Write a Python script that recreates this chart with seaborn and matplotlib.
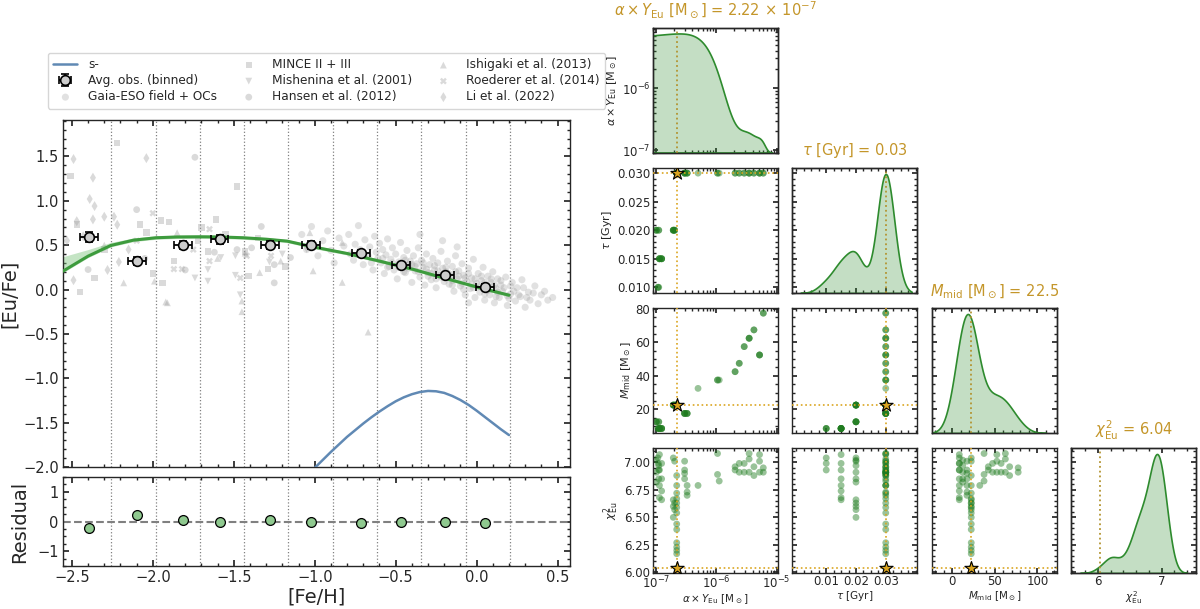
import numpy as np
import pandas as pd
import matplotlib
matplotlib.use('Agg')
import matplotlib.pyplot as plt
from matplotlib.ticker import AutoMinorLocator, FixedLocator, MultipleLocator, FormatStrFormatter
import seaborn as sns

sns.set_theme(style='ticks')
plt.rcParams.update({
    'font.family': ['DejaVu Sans'],
    'mathtext.fontset': 'dejavusans',
    'xtick.direction': 'in', 'ytick.direction': 'in',
    'xtick.top': True, 'ytick.right': True,
    'xtick.minor.visible': True, 'ytick.minor.visible': True,
    'axes.edgecolor': '0.15', 'axes.linewidth': 1.0,
    'xtick.major.size': 4.5, 'ytick.major.size': 4.5,
    'xtick.minor.size': 2.5, 'ytick.minor.size': 2.5,
})

# ---------------- left panel data ----------------
bin_feh = [-2.394, -2.098, -1.815, -1.588, -1.278, -1.023, -0.712, -0.468, -0.193, 0.054]
bin_eufe = [0.59, 0.316, 0.50, 0.564, 0.50, 0.50, 0.414, 0.271, 0.158, 0.03]
bin_xerr = [0.055, 0.055, 0.055, 0.055, 0.055, 0.055, 0.055, 0.055, 0.055, 0.055]
bin_yerr = [0.055, 0.045, 0.045, 0.05, 0.045, 0.045, 0.035, 0.03, 0.03, 0.03]
resid = [-0.21, 0.235, 0.06, 0.0, 0.06, -0.02, -0.035, 0.0, -0.02, -0.035]
bin_edges = [-2.256, -1.983, -1.709, -1.436, -1.162, -0.889, -0.615, -0.342, -0.068, 0.205]

model_feh = [-2.555, -2.4, -2.26, -2.12, -1.98, -1.85, -1.71, -1.58, -1.44, -1.30,
             -1.17, -1.01, -0.80, -0.60, -0.39, -0.19, 0.02, 0.20]
model_eufe = [0.207, 0.376, 0.496, 0.556, 0.583, 0.592, 0.594, 0.592, 0.583, 0.567,
              0.545, 0.48, 0.406, 0.32, 0.226, 0.124, 0.019, -0.064]
band_hi = [0.37, 0.45, 0.53, 0.58, 0.605, 0.612, 0.614, 0.61, 0.60, 0.585,
           0.563, 0.50, 0.425, 0.34, 0.245, 0.143, 0.038, -0.045]
band_lo = [0.19, 0.36, 0.48, 0.54, 0.566, 0.575, 0.577, 0.575, 0.566, 0.55,
           0.528, 0.463, 0.389, 0.303, 0.209, 0.107, 0.002, -0.082]

s_feh = [-1.05, -1.0, -0.95, -0.9, -0.85, -0.8, -0.75, -0.7, -0.65, -0.6, -0.55, -0.5, -0.45,
         -0.4, -0.35, -0.3, -0.25, -0.2, -0.15, -0.1, -0.05, 0.0, 0.05, 0.1, 0.15, 0.2]
s_eufe = [-2.10, -2.01, -1.92, -1.83, -1.745, -1.66, -1.585, -1.51, -1.44, -1.375, -1.315, -1.26,
          -1.215, -1.18, -1.155, -1.143, -1.147, -1.165, -1.2, -1.245, -1.3, -1.365, -1.435,
          -1.505, -1.575, -1.64]

# Gaia-ESO field + OCs
ges_feh = [-1.08, -1.05, -1.02, -0.98, -0.95, -0.92, -0.90, -0.88, -0.85, -0.82,
           -0.79, -0.78, -0.76, -0.75, -0.73, -0.72, -0.70, -0.69, -0.67, -0.66, -0.64, -0.63, -0.62, -0.61, -0.60,
           -0.59, -0.58, -0.57, -0.56, -0.55, -0.54, -0.53, -0.52, -0.51, -0.50, -0.49, -0.48, -0.47, -0.46, -0.45,
           -0.44, -0.43, -0.42, -0.41, -0.40,
           -0.39, -0.38, -0.37, -0.36, -0.35, -0.34, -0.33, -0.32, -0.31, -0.30, -0.29, -0.28, -0.27, -0.26, -0.25,
           -0.24, -0.23, -0.22, -0.21, -0.20, -0.21, -0.35,
           -0.19, -0.18, -0.17, -0.16, -0.15, -0.14, -0.13, -0.12, -0.11, -0.10, -0.09, -0.08, -0.07, -0.06, -0.05,
           -0.04, -0.03, -0.02, -0.01, 0.00, -0.12, -0.05,
           0.01, 0.02, 0.03, 0.04, 0.05, 0.06, 0.07, 0.08, 0.09, 0.10, 0.11, 0.12, 0.13, 0.14, 0.15, 0.16, 0.18, 0.19,
           0.21, 0.22, 0.24, 0.25, 0.27, 0.28, 0.30, 0.32, 0.33, 0.36, 0.38, 0.40, 0.44, 0.47,
           -0.55, -0.45, -0.30, -0.25, -0.15, -0.08, 0.05, 0.12, 0.20, -0.40, -0.65, -0.02,
           -0.58, -0.52, -0.48, -0.44, -0.42, -0.38, -0.36, -0.33, -0.31, -0.28, -0.26, -0.24, -0.22,
           -0.19, -0.17, -0.15, -0.13, -0.11, -0.09, -0.07, -0.05, -0.03, -0.01, 0.01, 0.03, 0.05,
           0.07, 0.09, 0.11, 0.13, 0.15, 0.17, 0.19, 0.21, 0.23, 0.26, 0.29, 0.31, 0.35, 0.42]
ges_eufe = [0.62, 0.45, 0.71, 0.38, 0.55, 0.66, 0.44, 0.30, 0.58, 0.49,
            0.62, 0.40, 0.33, 0.51, 0.72, 0.45, 0.28, 0.56, 0.38, 0.48, 0.22, 0.60, 0.42, 0.35, 0.52,
            0.30, 0.45, 0.18, 0.39, 0.57, 0.26, 0.34, 0.47, 0.22, 0.40, 0.12, 0.31, 0.53, 0.27, 0.36,
            0.19, 0.44, 0.24, 0.32, 0.08,
            0.38, 0.21, 0.29, 0.47, 0.14, 0.33, 0.25, 0.05, 0.40, 0.19, 0.28, 0.11, 0.35, 0.22, 0.02,
            0.30, 0.16, 0.43, 0.24, 0.09, 0.55, 0.62,
            0.20, 0.32, 0.06, 0.15, 0.26, -0.02, 0.38, 0.12, 0.21, 0.04, 0.29, 0.16, -0.06, 0.09, 0.24,
            0.01, 0.13, 0.34, -0.09, 0.07, 0.48, -0.15,
            0.18, -0.03, 0.10, 0.25, -0.12, 0.04, 0.15, -0.06, 0.08, 0.20, -0.15, 0.01, 0.12, -0.09, 0.05, -0.02, 0.14, -0.18,
            -0.05, 0.08, -0.13, 0.02, -0.08, 0.11, -0.20, -0.03, -0.12, 0.04, -0.16, -0.06, -0.12, -0.09,
            0.25, 0.20, 0.15, 0.12, 0.05, 0.00, -0.05, -0.08, -0.10, 0.28, 0.30, 0.02,
            0.35, 0.30, 0.25, 0.33, 0.28, 0.26, 0.20, 0.30, 0.23, 0.18, 0.27, 0.21, 0.14,
            0.25, 0.18, 0.10, 0.20, 0.15, 0.07, 0.13, 0.18, 0.06, 0.12, 0.03, 0.15, 0.08,
            -0.01, 0.12, 0.05, -0.03, 0.10, 0.02, -0.07, 0.04, -0.02, -0.06, 0.02, -0.09, -0.04, -0.02]

mince_feh = [-2.22, -2.51, -1.48, -1.95, -1.90, -2.08, -1.61, -1.70, -2.45, -2.36, -1.94, -2.00,
             -1.43, -1.66, -1.29, -1.18, -1.41, -2.47, -2.04, -1.72, -1.55, -1.87, -2.30, -1.35]
mince_eufe = [1.65, 1.28, 1.16, 0.78, 0.76, 0.73, 0.79, 0.70, -0.03, 0.13, 0.075, 0.18,
              0.43, 0.43, 0.23, 0.26, 0.15, 0.73, 0.64, 0.55, 0.62, 0.32, 0.45, 0.58]
mish_feh = [-1.66, -1.66, -1.74, -1.49, -1.58, -1.49, -1.28, -1.46, -1.20, -1.05]
mish_eufe = [0.225, 0.094, 0.13, 0.16, 0.36, 0.38, 0.31, -0.06, 0.40, 0.45]
hansen_feh = [-2.10, -1.74, -1.33, -1.25, -1.48, -2.40, -1.25, -1.15, -1.62, -1.39, -1.80, -2.05]
hansen_eufe = [0.90, 1.49, 0.71, 0.075, 0.45, 0.225, 0.28, 0.36, 0.42, 0.47, 0.22, 0.35]
ishi_feh = [-2.18, -1.92, -1.99, -1.85, -1.43, -1.34, -1.21, -1.91, -1.45, -1.45, -0.67,
            -1.03, -0.83, -1.01, -0.83, -1.60, -2.30]
ishi_eufe = [0.075, -0.14, 0.094, 0.64, 0.41, 0.19, 0.32, -0.15, -0.13, -0.25, -0.48,
             0.64, 0.53, 0.21, 0.08, 0.35, 0.50]
roed_feh = [-2.00, -1.65, -1.87, -1.82, -1.46, -1.65, -1.42, -1.27, -2.10, -1.75]
roed_eufe = [0.86, 0.68, 0.23, 0.23, 0.13, 0.32, 0.38, 0.38, 0.55, 0.45]
li_feh = [-2.49, -2.37, -2.39, -2.36, -2.37, -2.30, -2.49, -2.28, -2.24, -2.22, -2.04,
          -2.15, -2.21, -2.47, -2.43, -2.53]
li_eufe = [1.47, 1.26, 1.02, 0.94, 0.79, 0.82, 0.105, 0.22, 0.82, 0.73, 1.48,
           0.45, 0.31, 0.77, 0.60, 0.55]

# ---------------- corner plot samples ----------------
ay_samples = [1.08e-7, 1.1e-7, 1.12e-7,
              1.15e-7, 1.25e-7, 1.15e-7, 1.25e-7, 1.15e-7, 1.25e-7, 1.15e-7, 1.25e-7,
              1.02e-7, 1.12e-7, 1.02e-7, 1.12e-7, 1.02e-7,
              1.95e-7, 2.05e-7, 1.95e-7, 2.05e-7, 1.95e-7, 2.05e-7, 1.95e-7,
              2.22e-7, 2.22e-7, 2.22e-7, 2.22e-7, 2.22e-7, 2.22e-7, 2.22e-7,
              2.22e-7, 2.22e-7, 2.22e-7, 2.22e-7, 2.22e-7, 2.22e-7, 2.22e-7,
              3.0e-7, 3.0e-7, 3.0e-7, 3.0e-7, 3.3e-7, 3.3e-7, 3.3e-7,
              5.0e-7,
              1.05e-6, 1.05e-6, 1.12e-6,
              2.05e-6, 2.05e-6,
              2.4e-6, 2.4e-6,
              2.9e-6, 2.9e-6,
              3.5e-6, 3.5e-6, 3.5e-6,
              4.2e-6, 4.2e-6,
              5.2e-6, 5.2e-6, 5.2e-6,
              6.0e-6, 6.0e-6]
tau_samples = [0.01, 0.01, 0.01,
               0.015, 0.015, 0.015, 0.015, 0.015, 0.015, 0.015, 0.015,
               0.02, 0.02, 0.02, 0.02, 0.02,
               0.02, 0.02, 0.02, 0.02, 0.02, 0.02, 0.02,
               0.03, 0.03, 0.03, 0.03, 0.03, 0.03, 0.03,
               0.03, 0.03, 0.03, 0.03, 0.03, 0.03, 0.03,
               0.03, 0.03, 0.03, 0.03, 0.03, 0.03, 0.03,
               0.03,
               0.03, 0.03, 0.03,
               0.03, 0.03,
               0.03, 0.03,
               0.03, 0.03,
               0.03, 0.03, 0.03,
               0.03, 0.03,
               0.03, 0.03, 0.03,
               0.03, 0.03]
mmid_samples = [8.5, 8.5, 8.5,
                8.5, 8.5, 8.5, 8.5, 8.5, 8.5, 8.5, 8.5,
                12.5, 12.5, 12.5, 12.5, 12.5,
                22.5, 22.5, 22.5, 22.5, 22.5, 22.5, 22.5,
                22.5, 22.5, 22.5, 22.5, 22.5, 22.5, 22.5,
                22.5, 22.5, 22.5, 22.5, 22.5, 22.5, 22.5,
                17.5, 17.5, 17.5, 17.5, 17.5, 17.5, 17.5,
                32.5,
                37.5, 37.5, 37.5,
                42.5, 42.5,
                47.5, 47.5,
                57.5, 57.5,
                62.5, 62.5, 62.5,
                67.5, 67.5,
                52.5, 52.5, 52.5,
                77.5, 77.5]
chi2_samples = [7.04, 6.99, 6.93,
                7.07, 6.99, 6.93, 6.85, 6.79, 6.74, 6.68, 6.66,
                7.02, 6.97, 6.91, 6.85, 6.82,
                7.04, 7.01, 6.66, 6.63, 6.60, 6.57, 6.50,
                6.88, 6.79, 6.72, 6.67, 6.63, 6.59, 6.54,
                6.44, 6.39, 6.27, 6.23, 6.20, 6.17, 6.04,
                7.01, 6.93, 6.90, 6.85, 6.79, 6.73, 6.70,
                6.79,
                7.08, 6.89, 6.83,
                6.96, 6.93,
                6.99, 6.91,
                6.99, 6.91,
                7.08, 7.03, 6.91,
                6.96, 6.88,
                7.07, 7.01, 6.91,
                6.95, 6.91]

best_vals = [2.22e-7, 0.03, 22.5, 6.04]
par_labels = [r'$\alpha \times Y_{\rm Eu}$ [M$_\odot$]', r'$\tau$ [Gyr]',
              r'$M_{\rm mid}$ [M$_\odot$]', r'$\chi^2_{\rm Eu}$']
title_texts = [r'$\alpha \times Y_{\rm Eu}$ [M$_\odot$] = $2.22\,\times\,10^{-7}$',
               r'$\tau$ [Gyr] = 0.03', r'$M_{\rm mid}$ [M$_\odot$] = 22.5', r'$\chi^2_{\rm Eu}$ = 6.04']
kde_bw = [1.15, 1.0, 1.3, 1.0]

df = pd.DataFrame({'ay': ay_samples, 'tau': tau_samples, 'mmid': mmid_samples, 'chi2': chi2_samples})
cols = ['ay', 'tau', 'mmid', 'chi2']
col_lims = [(9e-8, 1.05e-5), (-0.0015, 0.0405), (-23.5, 123), (5.58, 7.54)]
row_lims = [(9e-8, 9.3e-6), (0.009, 0.0309), (5.8, 80.6), (5.995, 7.13)]

# ---------------- figure ----------------
W, H = 1200, 609
fig = plt.figure(figsize=(12, 6.09), dpi=100)


def box(l, t, r, b):
    return [l / W, 1 - b / H, (r - l) / W, (b - t) / H]


ax = fig.add_axes(box(63, 120, 570, 467))
axr = fig.add_axes(box(63, 477, 570, 566), sharex=ax)

grey = '0.62'
for e in bin_edges:
    ax.axvline(e, color='0.5', ls=':', lw=0.9, zorder=0)
    axr.axvline(e, color='0.5', ls=':', lw=0.9, zorder=0)

sns.scatterplot(x=ges_feh, y=ges_eufe, ax=ax, color=grey, alpha=0.3, s=26, edgecolor='none',
                label='Gaia-ESO field + OCs', zorder=1)
lit = [(mince_feh, mince_eufe, 's', 'MINCE II + III', 22),
       (mish_feh, mish_eufe, 'v', 'Mishenina et al. (2001)', 24),
       (hansen_feh, hansen_eufe, 'o', 'Hansen et al. (2012)', 24),
       (ishi_feh, ishi_eufe, '^', 'Ishigaki et al. (2013)', 24),
       (roed_feh, roed_eufe, 'X', 'Roederer et al. (2014)', 24),
       (li_feh, li_eufe, 'd', 'Li et al. (2022)', 26)]
for fx, fy, mk, lab, sz in lit:
    sns.scatterplot(x=fx, y=fy, ax=ax, color=grey, alpha=0.38, s=sz, marker=mk,
                    edgecolor='none', label=lab, zorder=1)

ax.fill_between(model_feh, band_lo, band_hi, color='#7cc47c', alpha=0.45, lw=0, zorder=2)
sns.lineplot(x=model_feh, y=model_eufe, ax=ax, color='#3d9b3d', lw=2.2, legend=False, zorder=3)
sns.lineplot(x=s_feh, y=s_eufe, ax=ax, color='#6089b4', lw=1.8, label='s-', zorder=3)
ax.errorbar(bin_feh, bin_eufe, xerr=bin_xerr, yerr=bin_yerr, fmt='o', mfc='#cdcdcd', mec='black',
            ecolor='black', ms=7, mew=1.2, capsize=3, elinewidth=1.3, capthick=1.3,
            label='Avg. obs. (binned)', zorder=6)

ax.set_xlim(-2.555, 0.577)
ax.set_ylim(-2.0, 1.91)
ax.xaxis.set_major_locator(MultipleLocator(0.5))
ax.xaxis.set_minor_locator(MultipleLocator(0.1))
ax.yaxis.set_major_locator(MultipleLocator(0.5))
ax.yaxis.set_minor_locator(MultipleLocator(0.1))
ax.tick_params(labelbottom=False, labelsize=10.5, pad=3)
ax.set_ylabel('[Eu/Fe]', fontsize=14, labelpad=3)
ax.set_xlabel('')

handles, labels = ax.get_legend_handles_labels()
order = ['s-', 'Avg. obs. (binned)', 'Gaia-ESO field + OCs', 'MINCE II + III',
         'Mishenina et al. (2001)', 'Hansen et al. (2012)', 'Ishigaki et al. (2013)',
         'Roederer et al. (2014)', 'Li et al. (2022)']
hmap = dict(zip(labels, handles))
ax.legend([hmap[k] for k in order], order, ncol=3, loc='lower center', bbox_to_anchor=(0.52, 1.015),
          fontsize=8.7, frameon=True, columnspacing=1.6, handletextpad=0.9, labelspacing=0.25,
          borderpad=0.45, handlelength=2.0)

axr.axhline(0, color='0.5', ls='--', lw=1.5, zorder=2)
sns.scatterplot(x=bin_feh, y=resid, ax=axr, color='#8fc98f', edgecolor='black', linewidth=0.9,
                s=50, zorder=5, legend=False)
axr.set_ylim(-1.5, 1.5)
axr.yaxis.set_major_locator(MultipleLocator(1))
axr.yaxis.set_minor_locator(MultipleLocator(0.25))
axr.tick_params(labelsize=10.5, pad=3)
axr.set_xlabel('[Fe/H]', fontsize=14, labelpad=2)
axr.set_ylabel('Residual', fontsize=14, labelpad=6)

# ---------------- corner plot ----------------
col_l = [653, 792, 932, 1071]
row_t = [28, 168, 308, 448]
size = 125
gcol = '#1e7b1e'
kcol = '#2e8b2e'
gold = '#DAA520'
dgold = '#b39431'
tcol = '#c4962a'


def fmt_axis(a, i, j):
    # i: row, j: column
    if j == 0:
        a.set_xscale('log')
    if i == 0 and j == 0:
        a.set_yscale('log')
    a.set_xlim(*col_lims[j])
    a.set_ylim(*row_lims[i])
    if j == 1:
        a.xaxis.set_major_locator(FixedLocator([0.01, 0.02, 0.03]))
        a.xaxis.set_minor_locator(MultipleLocator(0.0025))
    if j == 2:
        a.xaxis.set_major_locator(MultipleLocator(50))
        a.xaxis.set_minor_locator(MultipleLocator(10))
    if j == 3:
        a.xaxis.set_major_locator(MultipleLocator(1))
        a.xaxis.set_minor_locator(MultipleLocator(0.2))
    if i == 1:
        a.yaxis.set_major_locator(MultipleLocator(0.005))
        a.yaxis.set_minor_locator(MultipleLocator(0.001))
        a.yaxis.set_major_formatter(FormatStrFormatter('%.3f'))
    if i == 2:
        a.yaxis.set_major_locator(MultipleLocator(20))
        a.yaxis.set_minor_locator(MultipleLocator(5))
    if i == 3:
        a.yaxis.set_major_locator(MultipleLocator(0.25))
        a.yaxis.set_minor_locator(MultipleLocator(0.05))
        a.yaxis.set_major_formatter(FormatStrFormatter('%.2f'))
    a.tick_params(which='both', top=True, right=True, labelsize=8.5, length=3.5, pad=2)
    a.tick_params(which='minor', length=2)
    a.tick_params(axis='x', pad=1.5)
    a.tick_params(labelleft=(j == 0), labelbottom=(i == 3))
    a.set_xlabel(par_labels[j] if i == 3 else '', fontsize=7.5, labelpad=0.5)
    a.set_ylabel(par_labels[i] if j == 0 else '', fontsize=8, labelpad=2)


for i in range(4):
    for j in range(i + 1):
        a = fig.add_axes(box(col_l[j], row_t[i], col_l[j] + size, row_t[i] + size))
        if i == j:
            tw = a.twinx()
            # density estimated on the linear values, then shown on the axis scale
            sns.kdeplot(data=df, x=cols[j], ax=tw, fill=True, color=kcol, alpha=0.28,
                        linewidth=1.2, bw_adjust=kde_bw[j], gridsize=(4000 if j == 0 else 200))
            tw.set_ylim(bottom=0)
            tw.yaxis.set_visible(False)
            tw.axvline(best_vals[j], color=dgold, ls=':', lw=1.3)
            fmt_axis(a, i, j)
            tw.set_xlim(*col_lims[j])
            a.set_title(title_texts[j], color=tcol, fontsize=10.5, pad=9)
        else:
            sns.scatterplot(data=df, x=cols[j], y=cols[i], ax=a, color=gcol, alpha=0.45,
                            s=24, edgecolor='none', legend=False)
            a.axvline(best_vals[j], color=gold, ls=':', lw=1.2, zorder=3)
            a.axhline(best_vals[i], color=gold, ls=':', lw=1.2, zorder=3)
            sns.scatterplot(x=[best_vals[j]], y=[best_vals[i]], ax=a, marker='*', s=100,
                            color=gold, edgecolor='black', linewidth=0.8, zorder=5, legend=False)
            fmt_axis(a, i, j)

fig.savefig('out.png', dpi=100)
